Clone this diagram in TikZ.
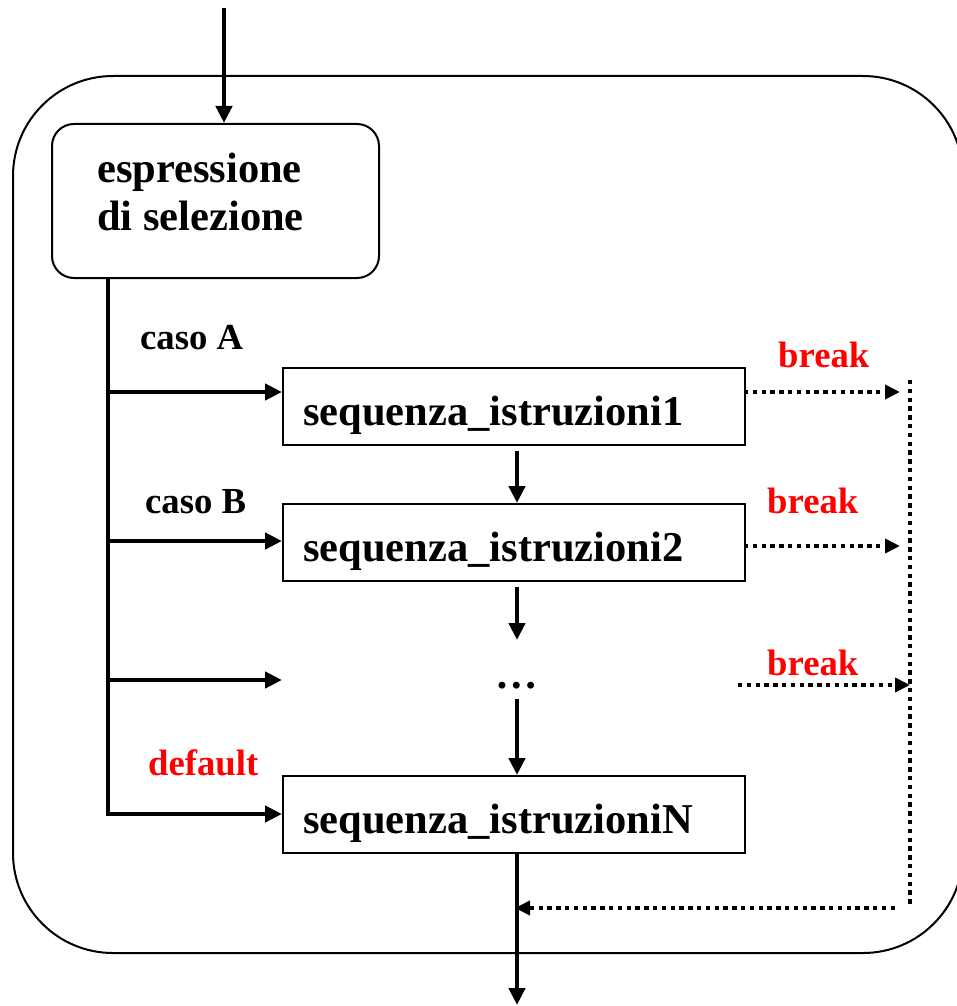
\documentclass[tikz,border=0pt]{standalone}
\usepackage{fontspec}
\setmainfont{Liberation Serif}
\usetikzlibrary{arrows.meta,calc}
\tikzset{
  bigfont/.style={font=\fontsize{42.5}{48}\selectfont\bfseries},
  smallfont/.style={font=\fontsize{36.7}{42}\selectfont\bfseries},
  conn/.style={line width=4.3pt},
  arr/.style={conn,-{Triangle[length=17pt,width=16pt]}},
  dotl/.style={line width=4.5pt, dash pattern=on 4.4pt off 4.4pt},
  darr/.style={dotl,-{Triangle[length=15pt,width=14pt]}},
  seqbox/.style={draw, line width=2.3pt, minimum height=77pt, text width=422pt,
    inner xsep=20pt, inner ysep=0pt, text height=37pt, text depth=0pt,
    align=left, anchor=north west, bigfont},
  lbl/.style={anchor=base west, inner sep=0pt, smallfont},
  redlbl/.style={lbl, text=red},
}
\begin{document}
\begin{tikzpicture}[x=1pt,y=-1pt]
\useasboundingbox (0,0) rectangle (957,1006);
% outer container
\draw[line width=2pt, rounded corners=100pt] (13,76) rectangle (963,953);
% selection expression
\node[draw, line width=2pt, rounded corners=22pt, minimum width=327pt,
      minimum height=154pt, anchor=north west, inner sep=0pt] (sel) at (51,123) {};
\node[anchor=base west, inner sep=0pt, align=left, bigfont] (seltext) at (97,230)
      {espressione\\di selezione};
% sequence boxes
\node[seqbox] (seq1) at (282,367) {sequenza\_istruzioni1};
\node[seqbox] (seq2) at (282,503) {sequenza\_istruzioni2};
\node[seqbox] (seqN) at (282,775) {sequenza\_istruzioniN};
\node[inner sep=0pt, anchor=base, bigfont] (dots) at (517,688) {…};
% coordinates
\coordinate (top) at (224,8);
\coordinate (tr) at (108,277);
\coordinate (v) at (517,0);
\coordinate (bA) at (108,392);
\coordinate (bB) at (108,541);
\coordinate (bC) at (108,680);
\coordinate (bN) at (108,814);
\coordinate (endC) at (282,680);
\coordinate (out) at (517,1005);
\coordinate (rx) at (910,380);
\coordinate (rb) at (910,907);
\coordinate (k1) at (744,392);
\coordinate (k2) at (744,546);
\coordinate (k3) at (738,685);
% entry arrow
\draw[arr] (top) -- (top |- sel.north);
% trunk and branches
\draw[conn] (sel.south -| tr) -- (bN);
\draw[arr] (bA) -- (bA -| seq1.west);
\draw[arr] (bB) -- (bB -| seq2.west);
\draw[arr] (bC) -- (endC);
\draw[arr] ([xshift=-2.15pt]bN) -- (bN -| seqN.west);
% vertical flow
\draw[arr] ($(seq1.south -| v)+(0,5)$) -- (seq2.north -| v);
\draw[arr] ($(seq2.south -| v)+(0,5)$) -- ($(dots.base -| v)+(0,-48)$);
\draw[arr] ($(dots.base -| v)+(0,11)$) -- (seqN.north -| v);
\draw[arr] (seqN.south -| v) -- (out);
% breaks
\draw[darr, shorten >=10pt] (k1) -- (k1 -| rx);
\draw[darr, shorten >=10pt] (k2) -- (k2 -| rx);
\draw[darr] (k3) -- (k3 -| rx);
\draw[dotl] (rx) -- (rb);
\draw[darr, shorten >=-2pt] ($(rb)+(-15,1)$) -- ($(rb -| v)+(0,1)$);
% labels
\node[lbl] (lA) at (140,349) {caso A};
\node[lbl] (lB) at (145,513) {caso B};
\node[redlbl] (ldef) at (148,775) {default};
\node[redlbl] (br1) at (778,367) {break};
\node[redlbl] (br2) at (767,513) {break};
\node[redlbl] (br3) at (767,675) {break};
\end{tikzpicture}
\end{document}
